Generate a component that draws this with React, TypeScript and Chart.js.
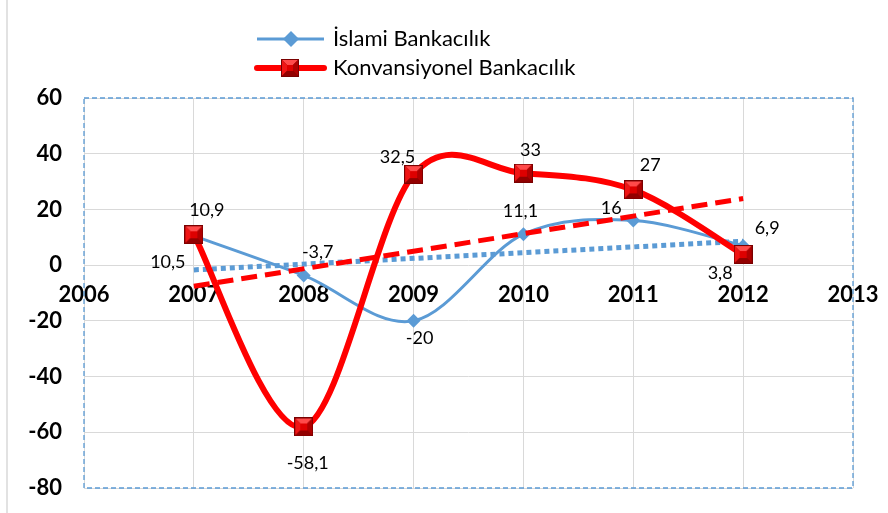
import React, { useEffect, useRef } from 'react';
import { Chart, registerables } from 'chart.js';

Chart.register(...registerables);

// ---- data ----
const years = [2007, 2008, 2009, 2010, 2011, 2012];
const islamiValues = [10.5, -3.7, -20, 11.1, 16, 6.9];
const konvValues = [10.9, -58.1, 32.5, 33, 27, 3.8];
const trendYears = [2007, 2012];
const islamiTrend = [-1.7, 8.6];
const konvTrend = [-7.6, 23.9];
const seriesNames = ['İslami Bankacılık', 'Konvansiyonel Bankacılık'];
const xMin = 2006;
const xMax = 2013;
const yMin = -80;
const yMax = 60;
const yStep = 20;

// label offsets (px) relative to points
const islamiLabelOffsets = [[-26, 26], [14, -23], [6, 17], [-3, -23], [-22, -12], [24, -18]];
const konvLabelOffsets = [[13, -25], [4, 36], [-16, -17], [7, -23], [17, -25], [-23, 19]];

const BLUE = '#5b9bd5';
const RED = '#ff0000';
const GRID = '#d9d9d9';
const FONT = 'Lato, "Open Sans", sans-serif';

function fmt(v: number) {
  return String(v).replace('.', ',');
}

function makeBevel(size: number): HTMLCanvasElement {
  const c = document.createElement('canvas');
  c.width = size;
  c.height = size;
  const g = c.getContext('2d')!;
  const s = size;
  const o = 1;
  const b = Math.round(size * 0.27);
  const i0 = o + b;
  const i1 = s - o - b;
  g.fillStyle = '#7a0000';
  g.fillRect(0, 0, s, s);
  const poly = (pts: number[][], color: string) => {
    g.beginPath();
    g.moveTo(pts[0][0], pts[0][1]);
    for (let k = 1; k < pts.length; k++) g.lineTo(pts[k][0], pts[k][1]);
    g.closePath();
    g.fillStyle = color;
    g.fill();
  };
  poly([[o, o], [s - o, o], [i1, i0], [i0, i0]], '#ff4a4a');
  poly([[o, o], [i0, i0], [i0, i1], [o, s - o]], '#f01515');
  poly([[s - o, o], [s - o, s - o], [i1, i1], [i1, i0]], '#b00000');
  poly([[o, s - o], [i0, i1], [i1, i1], [s - o, s - o]], '#920000');
  g.fillStyle = '#de0000';
  g.fillRect(i0, i0, i1 - i0, i1 - i0);
  return c;
}

const smoothIndexes = new Set([0, 3]);

const excelSmooth = {
  id: 'excelSmooth',
  beforeDatasetDraw(chart: any, args: any) {
    if (!smoothIndexes.has(args.index)) return;
    const line = args.meta.dataset;
    if (!line) return;
    if (typeof line.updateControlPoints === 'function') line.updateControlPoints(chart.chartArea, 'x');
    const pts = args.meta.data;
    const n = pts.length;
    for (let i = 0; i < n; i++) {
      const p = pts[i];
      const prev = pts[Math.max(0, i - 1)];
      const next = pts[Math.min(n - 1, i + 1)];
      const dx = (next.x - prev.x) / 6;
      const dy = (next.y - prev.y) / 6;
      p.cp1x = p.x - dx;
      p.cp1y = p.y - dy;
      p.cp2x = p.x + dx;
      p.cp2y = p.y + dy;
    }
    line._path = undefined;
  },
};

const zeroPad = (s: any) => {
  s.paddingLeft = 0;
  s.paddingRight = 0;
  s.paddingTop = 0;
  s.paddingBottom = 0;
};

export default function App() {
  const ref = useRef<HTMLCanvasElement>(null);

  useEffect(() => {
    const canvas = ref.current;
    if (!canvas) return;
    const redMarker = makeBevel(19);
    const redLegendMarker = makeBevel(18);

    const frame = {
      id: 'frame',
      beforeDatasetsDraw(chart: any) {
        const { ctx, chartArea: a } = chart;
        ctx.save();
        ctx.strokeStyle = BLUE;
        ctx.lineWidth = 1.3;
        ctx.setLineDash([5, 3]);
        ctx.strokeRect(a.left, a.top, a.right - a.left, a.bottom - a.top);
        ctx.restore();
      },
      afterDraw(chart: any) {
        const ctx = chart.ctx;
        ctx.save();
        // outer chart border (left)
        ctx.strokeStyle = GRID;
        ctx.lineWidth = 1.5;
        ctx.beginPath();
        ctx.moveTo(7, 0);
        ctx.lineTo(7, 513);
        ctx.stroke();
        // legend item 1
        ctx.strokeStyle = BLUE;
        ctx.lineWidth = 3;
        ctx.beginPath();
        ctx.moveTo(257, 39);
        ctx.lineTo(324, 39);
        ctx.stroke();
        ctx.fillStyle = BLUE;
        ctx.beginPath();
        ctx.moveTo(291, 31);
        ctx.lineTo(299, 39);
        ctx.lineTo(291, 47);
        ctx.lineTo(283, 39);
        ctx.closePath();
        ctx.fill();
        // legend item 2
        ctx.strokeStyle = RED;
        ctx.lineWidth = 6;
        ctx.lineCap = 'round';
        ctx.beginPath();
        ctx.moveTo(257, 68);
        ctx.lineTo(324, 68);
        ctx.stroke();
        ctx.drawImage(redLegendMarker, 281, 59);
        ctx.fillStyle = '#000';
        ctx.font = '22px ' + FONT;
        ctx.textAlign = 'left';
        ctx.textBaseline = 'middle';
        ctx.fillText(seriesNames[0], 333, 39);
        ctx.fillText(seriesNames[1], 333, 68);
        ctx.restore();
      },
      afterDatasetsDraw(chart: any) {
        const ctx = chart.ctx;
        ctx.save();
        ctx.fillStyle = '#000';
        ctx.font = '18px ' + FONT;
        ctx.textAlign = 'center';
        ctx.textBaseline = 'middle';
        const blueMeta = chart.getDatasetMeta(3);
        const redMeta = chart.getDatasetMeta(0);
        blueMeta.data.forEach((p: any, i: number) => {
          const off = islamiLabelOffsets[i];
          ctx.fillText(fmt(islamiValues[i]), p.x + off[0], p.y + off[1]);
        });
        redMeta.data.forEach((p: any, i: number) => {
          const off = konvLabelOffsets[i];
          ctx.fillText(fmt(konvValues[i]), p.x + off[0], p.y + off[1]);
        });
        ctx.restore();
      },
    };

    const chart = new Chart(canvas, {
      type: 'line',
      data: {
        datasets: [
          {
            label: seriesNames[1],
            data: years.map((x, i) => ({ x, y: konvValues[i] })),
            borderColor: RED,
            backgroundColor: RED,
            borderWidth: 6,
            tension: 0.4,
            pointStyle: redMarker as any,
            pointRadius: 10,
            order: 0,
          },
          {
            label: 'Konv trend',
            data: trendYears.map((x, i) => ({ x, y: konvTrend[i] })),
            borderColor: RED,
            borderWidth: 5,
            borderDash: [16, 8],
            pointRadius: 0,
            tension: 0,
            order: 1,
          },
          {
            label: 'Islami trend',
            data: trendYears.map((x, i) => ({ x, y: islamiTrend[i] })),
            borderColor: BLUE,
            borderWidth: 5,
            borderDash: [5, 4],
            borderCapStyle: 'butt',
            pointRadius: 0,
            tension: 0,
            order: 2,
          },
          {
            label: seriesNames[0],
            data: years.map((x, i) => ({ x, y: islamiValues[i] })),
            borderColor: BLUE,
            backgroundColor: BLUE,
            borderWidth: 3,
            tension: 0.4,
            pointStyle: 'rectRot',
            pointRadius: 7,
            pointBorderWidth: 0,
            order: 3,
          },
        ],
      },
      options: {
        responsive: false,
        animation: false,
        events: [],
        layout: { padding: { left: 0, top: 98, right: 35, bottom: 25 } },
        plugins: { legend: { display: false }, tooltip: { enabled: false } },
        scales: {
          x: {
            type: 'linear',
            position: { y: 0 } as any,
            min: xMin,
            max: xMax,
            afterFit: zeroPad,
            ticks: {
              stepSize: 1,
              padding: 17,
              color: '#000',
              font: { family: FONT, size: 22, weight: 'bold' },
              callback: (v: any) => String(v),
            },
            grid: { color: GRID, lineWidth: 1, drawTicks: false },
            border: { display: false },
          },
          y: {
            type: 'linear',
            min: yMin,
            max: yMax,
            afterFit: (s: any) => {
              s.width = 84;
              zeroPad(s);
            },
            ticks: {
              stepSize: yStep,
              padding: 22,
              color: '#000',
              font: { family: FONT, size: 22, weight: 'bold' },
              callback: (v: any) => String(v),
            },
            grid: { color: GRID, lineWidth: 1, drawTicks: false },
            border: { display: false },
          },
        },
      },
      plugins: [excelSmooth, frame],
    });
    return () => chart.destroy();
  }, []);

  return (
    <div style={{ position: 'absolute', left: 0, top: 0, width: 888, height: 513, background: '#fff' }}>
      <canvas ref={ref} width={888} height={513} style={{ display: 'block' }} />
    </div>
  );
}
